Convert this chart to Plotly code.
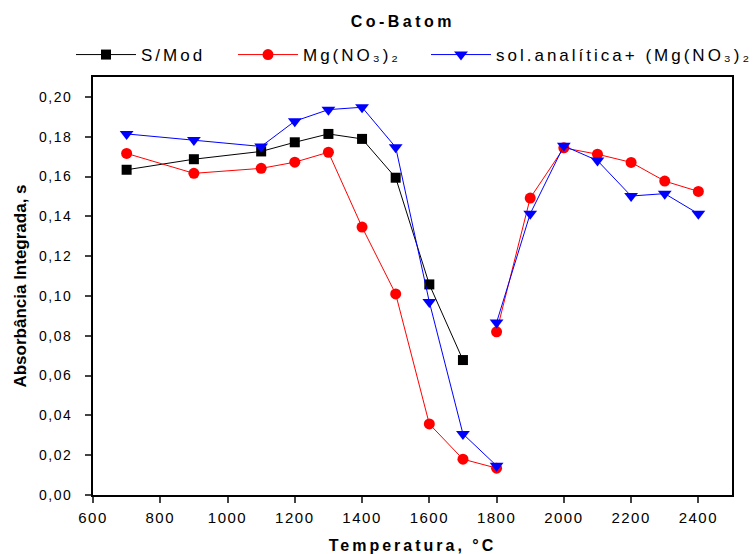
import plotly.graph_objects as go

temps_a = [700, 900, 1100, 1200, 1300, 1400, 1500, 1600, 1700]
s_mod = [0.1634, 0.1687, 0.1726, 0.1772, 0.1814, 0.1789, 0.1594, 0.1058, 0.0678]

temps_b = [700, 900, 1100, 1200, 1300, 1400, 1500, 1600, 1700, 1800, None,
           1800, 1900, 2000, 2100, 2200, 2300, 2400]
mg_no3 = [0.1716, 0.1616, 0.1641, 0.1672, 0.1722, 0.1346, 0.1010, 0.0357, 0.0180, 0.0135, None,
          0.0820, 0.1492, 0.1744, 0.1712, 0.1671, 0.1577, 0.1525]
sol_mg = [0.1814, 0.1784, 0.1751, 0.1878, 0.1936, 0.1948, 0.1747, 0.0970, 0.0307, 0.0147, None,
          0.0867, 0.1413, 0.1754, 0.1680, 0.1502, 0.1514, 0.1413]

names = ["S/Mod", "Mg(NO₃)₂", "sol.analítica+ (Mg(NO₃)₂"]
x_ticks = [600, 800, 1000, 1200, 1400, 1600, 1800, 2000, 2200, 2400]

FONT = "Liberation Sans, Arial, sans-serif"

fig = go.Figure()
fig.add_trace(go.Scatter(x=temps_a, y=s_mod, mode="lines+markers", name=names[0],
                         line=dict(color="black", width=1),
                         marker=dict(symbol="square", size=10, color="black"),
                         legend="legend", showlegend=True))
fig.add_trace(go.Scatter(x=temps_b, y=mg_no3, mode="lines+markers", name=names[1],
                         line=dict(color="red", width=1),
                         marker=dict(symbol="circle", size=11, color="red"),
                         legend="legend2", showlegend=True))
fig.add_trace(go.Scatter(x=temps_b, y=sol_mg, mode="lines+markers", name=names[2],
                         line=dict(color="blue", width=1),
                         marker=dict(symbol="triangle-down", size=12, color="blue"),
                         legend="legend3", showlegend=True))

leg_common = dict(orientation="h", xanchor="left", yanchor="middle", y=1.0526,
                  font=dict(family=FONT, size=17, color="black"),
                  bgcolor="rgba(0,0,0,0)", itemwidth=60, visible=True)

fig.update_layout(
    width=753, height=554,
    margin=dict(l=93, r=21, t=77, b=59, autoexpand=False),
    paper_bgcolor="white", plot_bgcolor="white",
    separators=",.",
    showlegend=True,
    font=dict(family=FONT, size=14, color="black"),
    title=dict(text="<b>Co-Batom</b>", x=0.535, xanchor="center", y=0.962, yanchor="middle",
               font=dict(family=FONT, size=16, color="black")),
    legend=dict(x=(71 - 93) / 639, **leg_common),
    legend2=dict(x=(233 - 93) / 639, **leg_common),
    legend3=dict(x=(426 - 93) / 639, **leg_common),
    xaxis=dict(range=[600, 2500], tickvals=x_ticks, ticks="outside", ticklen=6, tickwidth=1.5,
               showline=True, linecolor="black", linewidth=1.8, mirror=True, showgrid=False,
               zeroline=False, tickfont=dict(family=FONT, size=15), ticklabelstandoff=2,
               automargin=False,
               title=dict(text="<b>Temperatura, °C</b>", font=dict(family=FONT, size=16), standoff=22)),
    yaxis=dict(range=[0, 0.21], dtick=0.02, tick0=0, tickformat=".2f", ticks="outside", ticklen=6,
               tickwidth=1.5, showline=True, linecolor="black", linewidth=1.8, mirror=True,
               showgrid=False, zeroline=False, tickfont=dict(family=FONT, size=14),
               ticklabelstandoff=10, automargin=False,
               title=dict(text="<b>Absorbância Integrada, s</b>", font=dict(family=FONT, size=17), standoff=14)),
)

post = """
var st = document.createElement('style');
st.textContent = '.gtitle{letter-spacing:3.5px}' +
                 '.legendtext, g[class^="legend"] text, g[class*="legend"] text.legendtext, .infolayer .traces text{letter-spacing:3px !important}' +
                 '.scrollbox, g[class*="legend"] .scrollbox{clip-path:none !important}' +
                 '.xtick text{letter-spacing:1.5px}' +
                 '.ytick text{letter-spacing:1.5px}' +
                 '.xtitle{letter-spacing:3px}';
document.head.appendChild(st);
function spaceAll() {
  document.querySelectorAll('.infolayer .traces text').forEach(function(t) {
    t.style.setProperty('letter-spacing', '3px', 'important');
  });
  document.querySelectorAll('.infolayer .scrollbox').forEach(function(g) {
    g.removeAttribute('clip-path');
  });
}
spaceAll();
setTimeout(spaceAll, 50);
setTimeout(spaceAll, 300);
"""

fig.write_html("out.html", post_script=post)
